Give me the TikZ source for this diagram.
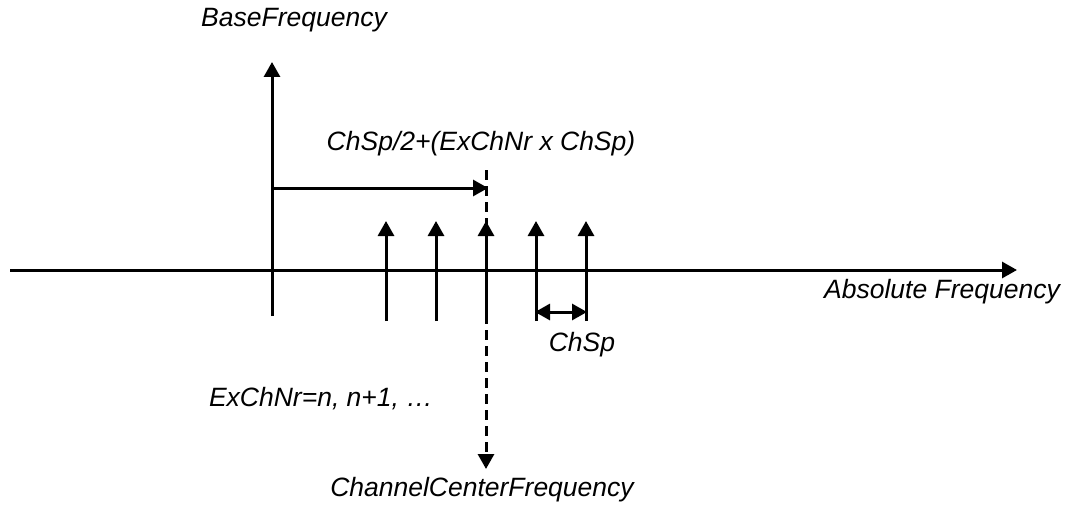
\documentclass[tikz,border=0pt]{standalone}
\usepackage{fontspec}
\setmainfont{Liberation Sans}
\usetikzlibrary{arrows.meta}
\begin{document}
\begin{tikzpicture}[x=1pt,y=-1pt,
  line width=3pt,
  tip/.style={-{Triangle[width=16pt,length=15pt]}},
  dtip/.style={{Triangle[width=16pt,length=15pt]}-{Triangle[width=16pt,length=15pt]}},
  lbl/.style={font=\fontsize{26.5}{30}\selectfont\itshape, inner sep=0pt, anchor=base},
  dash line/.style={dash pattern=on 10pt off 6pt}]
\useasboundingbox (0,0) rectangle (1067,508);
% labels
\node[lbl] (base) at (294,27) {BaseFrequency};
\node[lbl] (formula) at (481,150) {ChSp/2+(ExChNr x ChSp)};
\node[lbl] (absf) at (942,298) {Absolute Frequency};
\node[lbl] (chsp) at (582,351) {ChSp};
\node[lbl] (exch) at (321,406) {ExChNr=n, n+1, \ldots};
\node[lbl] (ccf) at (482,496) {ChannelCenterFrequency};
% axis
\coordinate (axL) at (10,270);
\coordinate (axR) at (1017,270);
\draw[tip] (axL) -- (axR);
% base frequency line
\coordinate (b0) at (272,316);
\coordinate (b1) at (272,62);
\draw[tip] (b0) -- (b1);
% channel arrows
\foreach \i/\x in {1/386,2/436,3/486,4/536,5/586}{
  \coordinate (c\i b) at (\x,321);
  \coordinate (c\i t) at (\x,221);
  \draw[tip] (c\i b) -- (c\i t);
}
% offset arrow
\coordinate (o0) at (272,188);
\coordinate (o1) at (488,188);
\draw[tip] (o0) -- (o1);
% dashed center line
\coordinate (d0) at (486,170);
\coordinate (d1) at (486,469);
\draw[tip,dash line] (d0) -- (d1);
% ChSp spacing arrow
\coordinate (s0) at (536,312);
\coordinate (s1) at (586,312);
\draw[dtip,shorten <=-1pt,shorten >=-1pt] (s0) -- (s1);
\end{tikzpicture}
\end{document}
